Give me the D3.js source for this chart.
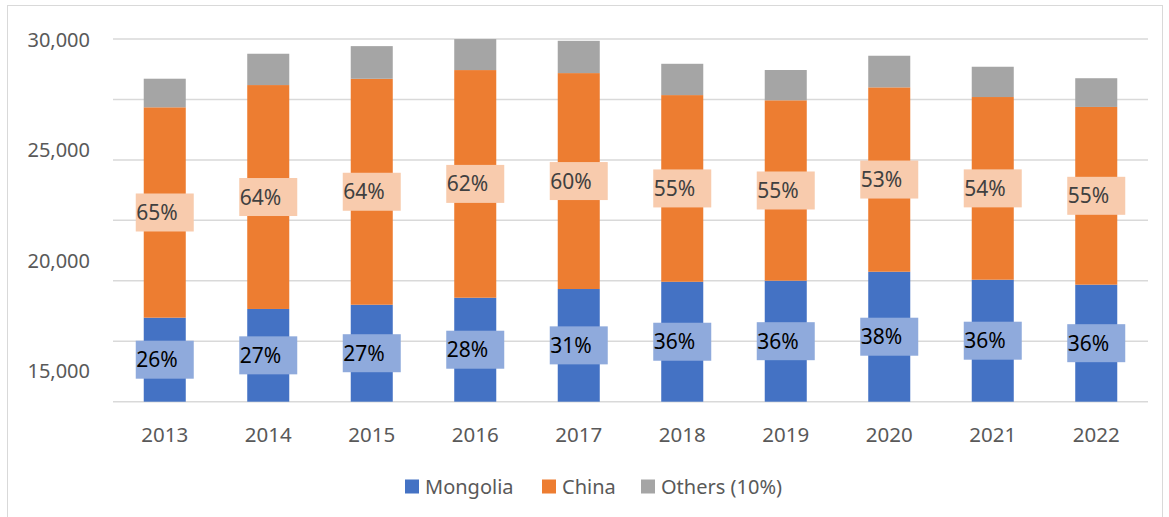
<!DOCTYPE html>
<html>
<head>
<meta charset="utf-8">
<script src="https://cdn.jsdelivr.net/npm/d3@7/dist/d3.min.js"></script>
<style>
  html, body { margin: 0; padding: 0; background: #fff; }
  svg { display: block; font-family: "Noto Sans", "Open Sans", sans-serif; }
</style>
</head>
<body>
<svg id="chart" width="1169" height="517"></svg>
<script>
// ---- data ----
const years = ["2013","2014","2015","2016","2017","2018","2019","2020","2021","2022"];
const mongolia = [6950, 7670, 8020, 8600, 9320, 9920, 10010, 10750, 10090, 9680];
const china    = [17400, 18520, 18690, 18830, 17860, 15440, 14920, 15250, 15110, 14700];
const others   = [2365, 2590, 2700, 2565, 2670, 2590, 2505, 2615, 2505, 2375];
const mongoliaPct = ["26%","27%","27%","28%","31%","36%","36%","38%","36%","36%"];
const chinaPct    = ["65%","64%","64%","62%","60%","55%","55%","53%","54%","55%"];
const tickLabels  = [15000, 20000, 25000, 30000];
const seriesNames = ["Mongolia", "China", "Others (10%)"];
const gridValues  = [0, 5000, 10000, 15000, 20000, 25000, 30000];

// ---- layout ----
const svg = d3.select("#chart");
const colors = ["#4472C4", "#ED7D31", "#A5A5A5"];
const labelFill = ["#8FAADC", "#F8CBAD"];
const labelText = ["#000000", "#404040"];

// chart border
svg.append("rect").attr("x", 7.5).attr("y", 5.5).attr("width", 1155).attr("height", 530)
  .attr("fill", "none").attr("stroke", "#d9d9d9").attr("stroke-width", 1);

const x = d3.scaleBand().domain(years).range([113, 1148]).paddingInner(0.594).paddingOuter(0.297);
const y = d3.scaleLinear().domain([0, 30000]).range([401.7, 39]);
// axis labels as positioned in the original picture
const yLabel = d3.scaleLinear().domain([15000, 30000]).range([370.3, 39.5]);

// gridlines
svg.append("g").selectAll("line").data(gridValues).join("line")
  .attr("x1", 113).attr("x2", 1148)
  .attr("y1", d => y(d)).attr("y2", d => y(d))
  .attr("stroke", "#d9d9d9").attr("stroke-width", 1.5);

// y axis labels
const yAxis = d3.axisLeft(yLabel).tickValues(tickLabels).tickFormat(d3.format(",")).tickSize(0).tickPadding(0);
const gy = svg.append("g").attr("transform", "translate(90,0)").call(yAxis);
gy.select(".domain").remove();
gy.selectAll("text").attr("font-size", 20).attr("fill", "#595959")
  .attr("font-family", "'Noto Sans', sans-serif").attr("dy", "0.36em");

// x axis labels
const xAxis = d3.axisBottom(x).tickSize(0).tickPadding(0);
const gx = svg.append("g").attr("transform", "translate(0,435)").call(xAxis);
gx.select(".domain").remove();
gx.selectAll("text").attr("font-size", 20.5).attr("fill", "#595959")
  .attr("font-family", "'Noto Sans', sans-serif").attr("dy", "0.36em");

// stack
const rows = years.map((yr, i) => ({ year: yr, m: mongolia[i], c: china[i], o: others[i] }));
const stack = d3.stack().keys(["m", "c", "o"])(rows);

svg.append("g").selectAll("g").data(stack).join("g")
  .attr("fill", (d, i) => colors[i])
  .selectAll("rect").data(d => d).join("rect")
  .attr("x", d => x(d.data.year))
  .attr("width", x.bandwidth())
  .attr("y", d => y(d[1]))
  .attr("height", d => y(d[0]) - y(d[1]));

// data labels (Mongolia and China)
const pcts = [mongoliaPct, chinaPct];
const boxW = 58, boxH = 38, fs = 21;
[0, 1].forEach(k => {
  const g = svg.append("g");
  stack[k].forEach((d, i) => {
    const cx = x(d.data.year) + x.bandwidth() / 2;
    const cy = y((d[0] + d[1]) / 2);
    g.append("rect").attr("x", cx - boxW / 2).attr("y", cy - boxH / 2)
      .attr("width", boxW).attr("height", boxH).attr("fill", labelFill[k]);
    g.append("text").attr("x", cx - boxW / 2 + 0.5).attr("y", cy + fs * 0.36)
      .attr("font-size", fs).attr("fill", labelText[k]).text(pcts[k][i]);
  });
});

// legend
const legendX = [405, 542, 641];
const lg = svg.append("g");
seriesNames.forEach((name, i) => {
  lg.append("rect").attr("x", legendX[i]).attr("y", 479.5).attr("width", 14).attr("height", 14)
    .attr("fill", colors[i]);
  lg.append("text").attr("x", legendX[i] + 20).attr("y", 494.3)
    .attr("font-size", 20).attr("fill", "#595959").text(name);
});
</script>
</body>
</html>
